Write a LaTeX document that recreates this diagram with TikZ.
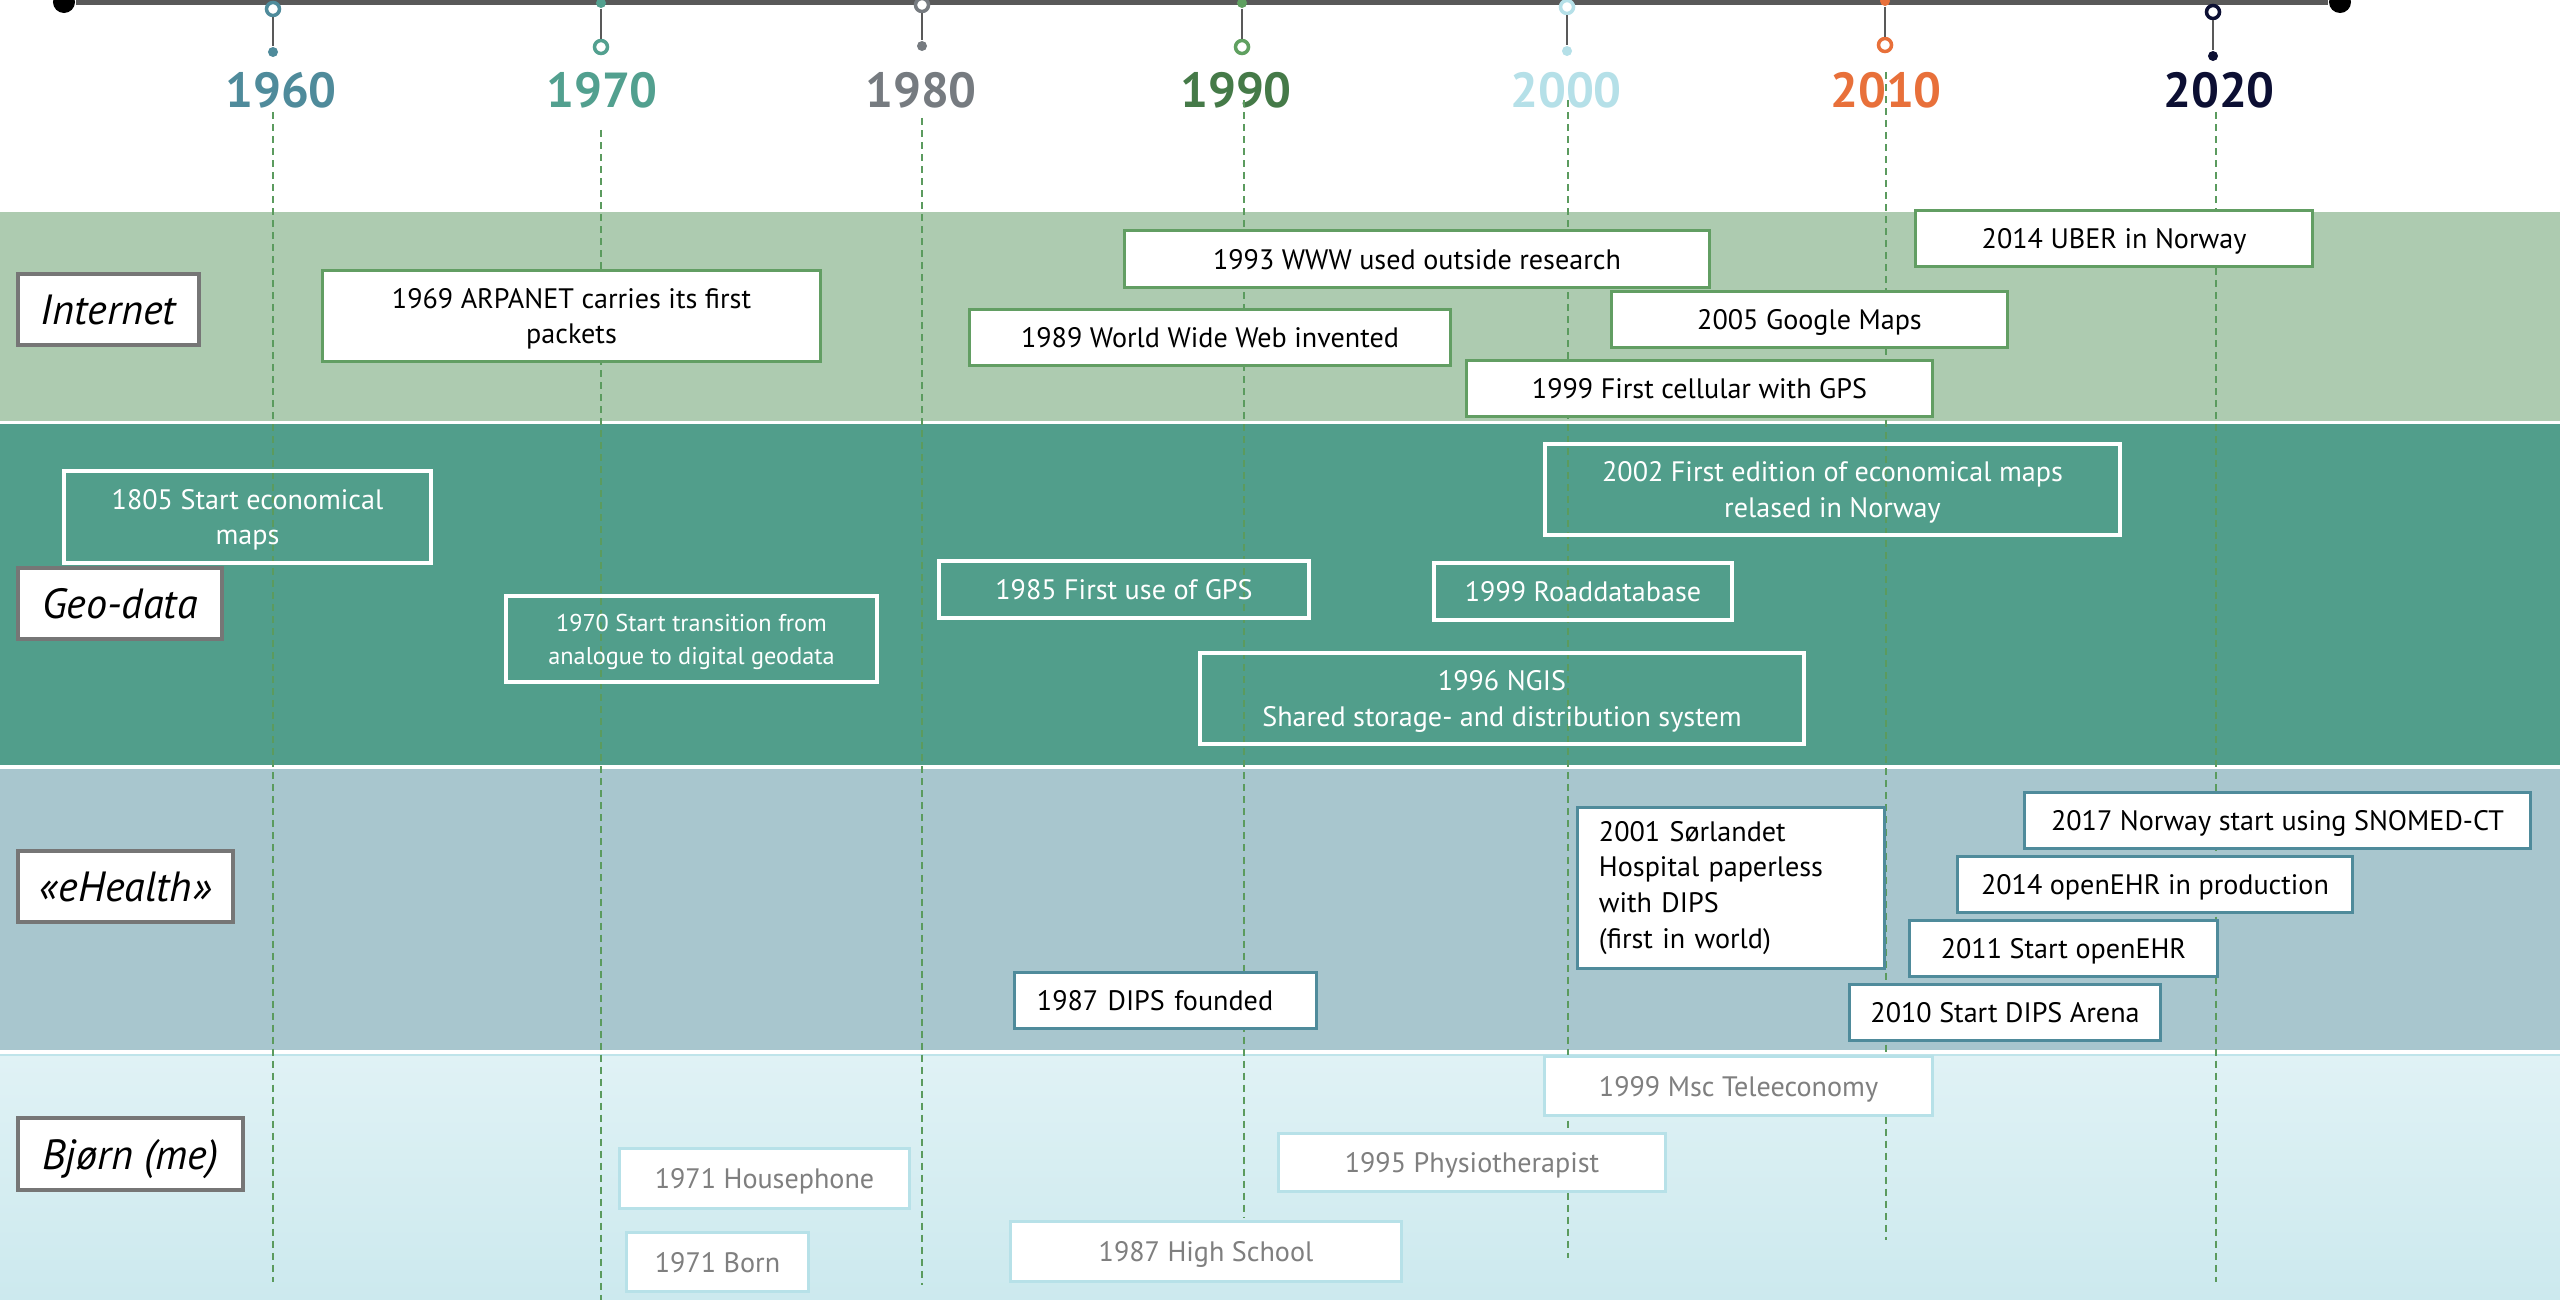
\documentclass[tikz,border=0pt]{standalone}
\usepackage{fontspec}
\setmainfont{PT Sans}
\definecolor{bandI}{HTML}{ADCBB0}
\definecolor{bandG}{HTML}{519E8B}
\definecolor{bandE}{HTML}{A8C6CE}
\definecolor{bjTop}{HTML}{E0F2F5}
\definecolor{bjBot}{HTML}{CCE9EE}
\definecolor{bjLine}{HTML}{BFE4EA}
\definecolor{dashG}{HTML}{5B9B5E}
\definecolor{boxG}{HTML}{629E63}
\definecolor{boxE}{HTML}{4F8B9B}
\definecolor{boxB}{HTML}{B7E1E8}
\definecolor{grayT}{HTML}{7F7F7F}
\definecolor{catB}{HTML}{767676}
\definecolor{barc}{HTML}{595959}
\definecolor{cA}{HTML}{4F8B9B}
\definecolor{cB}{HTML}{52A08F}
\definecolor{cC}{HTML}{767B80}
\definecolor{cD}{HTML}{457A48}
\definecolor{cDp}{HTML}{5FA060}
\definecolor{cE}{HTML}{B5E0E8}
\definecolor{cF}{HTML}{E8703A}
\definecolor{cG}{HTML}{0C0F33}
\tikzset{
  evbase/.style={font=\fontsize{8}{10.2}\selectfont, align=center, inner sep=0pt},
  evtext/.style={evbase, text depth=0pt},
  ibox/.style={evtext, draw=boxG, fill=white, line width=0.03cm, text=black},
  gbox/.style={evtext, draw=white, line width=0.035cm, text=white},
  ebox/.style={evtext, draw=boxE, fill=white, line width=0.03cm, text=black},
  eboxL/.style={evbase, draw=boxE, fill=white, line width=0.03cm, text=black},
  bbox/.style={evtext, draw=boxB, fill=white, line width=0.03cm, text=grayT},
  catbox/.style={font=\fontsize{12}{14}\selectfont\itshape, draw=catB, fill=white, line width=0.035cm, inner sep=0pt, text=black, text depth=0pt},
  yearlbl/.style={font=\fontsize{14}{16}\selectfont\bfseries, inner sep=0pt},
  guide/.style={draw=dashG, line width=0.02cm, dash pattern=on 0.07cm off 0.05cm},
  ring/.style={circle, draw=#1, fill=white, line width=0.035cm, minimum size=0.13cm, inner sep=0pt},
  dot/.style={circle, fill=#1, minimum size=0.1cm, inner sep=0pt},
  stem/.style={draw=barc, line width=0.02cm},
}
\begin{document}
\begin{tikzpicture}[x=0.01cm,y=-0.01cm]
\useasboundingbox (0,0) rectangle (2560,1300);
\fill[white] (0,0) rectangle (2560,1300);
% bands
\fill[bandI] (0,212) rectangle (2560,421);
\fill[bandG] (0,424) rectangle (2560,765);
\fill[bandE] (0,769) rectangle (2560,1050);
\shade[top color=bjTop, bottom color=bjBot] (0,1054) rectangle (2560,1300);
\draw[bjLine, line width=0.02cm] (0,1055) -- (2560,1055);
% year labels
\node[yearlbl, text=cA] (y1960) at (281,90) {1960};
\node[yearlbl, text=cB] (y1970) at (602,90) {1970};
\node[yearlbl, text=cC] (y1980) at (921,90) {1980};
\node[yearlbl, text=cD] (y1990) at (1236,90) {1990};
\node[yearlbl, text=cE] (y2000) at (1566,90) {2000};
\node[yearlbl, text=cF] (y2010) at (1886,90) {2010};
\node[yearlbl, text=cG] (y2020) at (2219,90) {2020};
% guides
\coordinate (g60t) at (273,112);  \coordinate (g60b) at (273,1282);
\coordinate (g70t) at (601,130);  \coordinate (g70b) at (601,1300);
\coordinate (g80t) at (922,118);  \coordinate (g80b) at (922,1285);
\coordinate (g90t) at (1244,100); \coordinate (g90b) at (1244,1218);
\coordinate (g00t) at (1568,100); \coordinate (g00b) at (1568,1258);
\coordinate (g10t) at (1886,72);  \coordinate (g10b) at (1886,1240);
\coordinate (g20t) at (2216,112); \coordinate (g20b) at (2216,1282);
\foreach \g in {60,70,80,90,00,10,20} {\draw[guide] (g\g t) -- (g\g b);}
% category labels
\node[catbox, minimum width=1.81cm, minimum height=0.71cm] (cInternet) at (108.5,309.5) {Internet};
\node[catbox, minimum width=2.04cm, minimum height=0.71cm] (cGeo) at (120,603.5) {Geo-data};
\node[catbox, minimum width=2.15cm, minimum height=0.71cm] (cEhealth) at (125.5,886.5) {«eHealth»};
\node[catbox, minimum width=2.25cm, minimum height=0.72cm] (cBjorn) at (130.5,1154) {Bjørn (me)};
% Internet
\node[ibox, minimum width=4.97cm, minimum height=0.90cm] (arpanet) at (571.5,316) {1969 ARPANET carries its first\\packets};
\node[ibox, minimum width=5.84cm, minimum height=0.56cm] (www93) at (1417,259) {1993 WWW used outside research};
\node[ibox, minimum width=4.80cm, minimum height=0.55cm] (www89) at (1210,337.5) {1989 World Wide Web invented};
\node[ibox, minimum width=3.95cm, minimum height=0.55cm] (google) at (1809.5,319.5) {2005 Google Maps};
\node[ibox, minimum width=4.65cm, minimum height=0.55cm] (cellular) at (1699.5,388.5) {1999 First cellular with GPS};
\node[ibox, minimum width=3.96cm, minimum height=0.55cm] (uber) at (2114,238.5) {2014 UBER in Norway};
% Geo-data
\node[gbox, minimum width=3.67cm, minimum height=0.92cm] (econ1805) at (247.5,517) {1805 Start economical\\maps};
\node[gbox, minimum width=3.71cm, minimum height=0.86cm, font=\fontsize{6.9}{9.4}\selectfont] (trans1970) at (691.5,639) {1970 Start transition from\\analogue to digital geodata};
\node[gbox, minimum width=3.70cm, minimum height=0.57cm] (gps85) at (1124,589.5) {1985 First use of GPS};
\node[gbox, minimum width=2.98cm, minimum height=0.57cm] (road99) at (1583,591.5) {1999 Roaddatabase};
\node[gbox, minimum width=5.75cm, minimum height=0.91cm] (econ2002) at (1832.5,489.5) {2002 First edition of economical maps\\relased in Norway};
\node[gbox, minimum width=6.04cm, minimum height=0.91cm] (ngis96) at (1502,698.5) {1996 NGIS\\Shared storage- and distribution system};
% eHealth
\node[eboxL, minimum width=3.06cm, minimum height=1.60cm, text width=2.64cm, align=left] (sorlandet) at (1731,888) {2001 Sørlandet\\Hospital paperless\\with DIPS\\(first in world)};
\node[ebox, minimum width=3.01cm, minimum height=0.55cm, text width=2.57cm, align=left] (dips87) at (1165.5,1000.5) {1987 DIPS founded};
\node[ebox, minimum width=5.05cm, minimum height=0.55cm] (snomed) at (2277.5,820.5) {2017 Norway start using SNOMED-CT};
\node[ebox, minimum width=3.94cm, minimum height=0.55cm] (ehrprod) at (2155,884.5) {2014 openEHR in production};
\node[ebox, minimum width=3.07cm, minimum height=0.55cm] (ehrstart) at (2063.5,948.5) {2011 Start openEHR};
\node[ebox, minimum width=3.10cm, minimum height=0.55cm] (arena) at (2005,1012.5) {2010 Start DIPS Arena};
% Bjorn
\node[bbox, minimum width=3.87cm, minimum height=0.58cm] (msc99) at (1738.5,1086) {1999 Msc Teleeconomy};
\node[bbox, minimum width=3.86cm, minimum height=0.57cm] (physio95) at (1472,1162.5) {1995 Physiotherapist};
\node[bbox, minimum width=3.90cm, minimum height=0.59cm] (hs87) at (1206,1251.5) {1987 High School};
\node[bbox, minimum width=2.89cm, minimum height=0.59cm] (house71) at (764.5,1178.5) {1971 Housephone};
\node[bbox, minimum width=1.81cm, minimum height=0.58cm] (born71) at (717.5,1262) {1971 Born};
% timeline bar
\node[circle, fill=black, minimum size=0.22cm, inner sep=0pt] (tlL) at (64,2) {};
\node[circle, fill=black, minimum size=0.22cm, inner sep=0pt] (tlR) at (2340,2) {};
\draw[barc, line width=0.055cm] (tlL) -- (tlR);
% pins
\node[ring=cA] (p60a) at (273,9) {};   \node[dot=cA] (p60b) at (273,52) {};
\node[dot=cB] (p70a) at (601,3) {};    \node[ring=cB] (p70b) at (601,47) {};
\node[ring=cC] (p80a) at (922,5) {};   \node[dot=cC] (p80b) at (922,46) {};
\node[dot=cDp] (p90a) at (1242,3) {};  \node[ring=cDp] (p90b) at (1242,47) {};
\node[ring=cE] (p00a) at (1567,7) {};  \node[dot=cE] (p00b) at (1567,51) {};
\node[dot=cF] (p10a) at (1885,1) {};   \node[ring=cF] (p10b) at (1885,45) {};
\node[ring=cG] (p20a) at (2213,12) {}; \node[dot=cG] (p20b) at (2213,56) {};
\foreach \p in {60,70,80,90,00,10,20} {\draw[stem] (p\p a) -- (p\p b);}
\end{tikzpicture}
\end{document}
